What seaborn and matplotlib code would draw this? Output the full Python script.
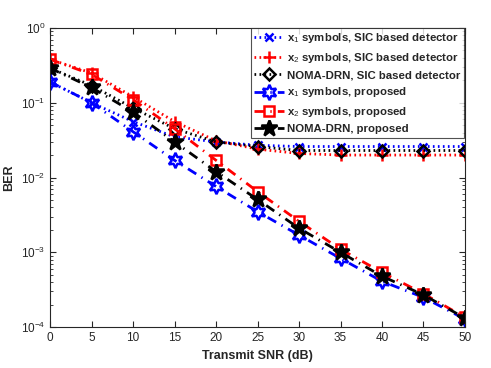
import numpy as np
import pandas as pd
import seaborn as sns
import matplotlib
matplotlib.use("Agg")
import matplotlib.pyplot as plt

# ---- data ----
snr = [0, 5, 10, 15, 20, 25, 30, 35, 40, 45, 50]

x1_sic = [0.19, 0.10, 0.056, 0.035, 0.030, 0.027, 0.026, 0.026, 0.026, 0.026, 0.026]
x2_sic = [0.38, 0.25, 0.12, 0.056, 0.031, 0.024, 0.021, 0.020, 0.020, 0.020, 0.020]
noma_sic = [0.29, 0.17, 0.085, 0.045, 0.030, 0.026, 0.023, 0.023, 0.023, 0.023, 0.023]

x1_prop = [0.19, 0.10, 0.041, 0.017, 0.0076, 0.0035, 0.0017, 0.00083, 0.00041, 0.00025, 0.000128]
x2_prop = [0.38, 0.24, 0.11, 0.045, 0.017, 0.0065, 0.0026, 0.0011, 0.00054, 0.00028, 0.000135]
noma_prop = [0.29, 0.16, 0.075, 0.030, 0.012, 0.0051, 0.0021, 0.0010, 0.00048, 0.00027, 0.000132]

labels = [
    r"x$_1$ symbols, SIC based detector",
    r"x$_2$ symbols, SIC based detector",
    "NOMA-DRN, SIC based detector",
    r"x$_1$ symbols, proposed",
    r"x$_2$ symbols, proposed",
    "NOMA-DRN, proposed",
]

sns.set_style("ticks")
plt.rcParams["font.family"] = ["Liberation Sans", "DejaVu Sans"]
plt.rcParams["mathtext.fontset"] = "custom"
plt.rcParams["mathtext.rm"] = "Liberation Sans"
plt.rcParams["mathtext.bf"] = "Liberation Sans:bold"

fig = plt.figure(figsize=(4.91, 3.68), dpi=100)
ax = fig.add_axes([0.102, 0.111, 0.845, 0.813])

dot = (0.6, 1.2)
dashdot = (3.5, 2.2, 0.5, 2.2)
series = [
    (x1_sic, "blue", "x", dot, "blue"),
    (x2_sic, "red", "+", dot, "red"),
    (noma_sic, "black", "D", dot, "none"),
    (x1_prop, "blue", (6, 1, 0), dashdot, "none"),
    (x2_prop, "red", "s", dashdot, "none"),
    (noma_prop, "black", "*", dashdot, "black"),
]
sizes = [6, 9, 6, 11, 7, 12]

for (vals, col, mk, ds, fc), lab, ms in zip(series, labels, sizes):
    df = pd.DataFrame({"snr": snr, "ber": vals})
    sns.lineplot(data=df, x="snr", y="ber", ax=ax, color=col, marker=mk,
                 dashes=ds, linewidth=2, markersize=ms,
                 markerfacecolor=fc, markeredgecolor=col,
                 markeredgewidth=1.8, label=lab)

ax.set_yscale("log")
ax.set_xlim(0, 50)
ax.set_ylim(1e-4, 1)
ax.set_xticks(range(0, 51, 5))
ax.tick_params(direction="in", top=True, right=True, which="both",
               labelsize=8.5, colors="#262626")
ax.tick_params(which="major", length=4)
ax.tick_params(which="minor", length=2)
for s in ax.spines.values():
    s.set_color("#262626")
    s.set_linewidth(0.8)

ax.set_xlabel("Transmit SNR (dB)", fontsize=9, fontweight="bold")
ax.set_ylabel("BER", fontsize=9, fontweight="bold")

leg = ax.legend(loc="upper right", bbox_to_anchor=(1.012, 1.02),
                prop={"weight": "bold", "size": 8.2}, frameon=True,
                fancybox=False, handlelength=2.6, borderpad=0.3,
                labelspacing=0.48, handletextpad=0.3)
leg.get_frame().set_edgecolor("#262626")
leg.get_frame().set_linewidth(0.8)

fig.savefig("out.png", dpi=100)
